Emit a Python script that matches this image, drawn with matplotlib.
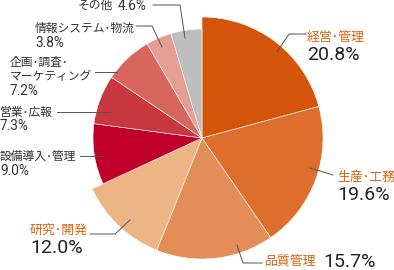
import matplotlib.pyplot as plt

plt.rcParams['font.family'] = ['Noto Sans CJK JP', 'DejaVu Sans']

categories = ['経営･管理', '生産･工務', '品質管理', '研究･開発', '設備導入･管理',
              '営業･広報', '企画･調査･\nマーケティング', '情報システム･物流', 'その他']
shares = [20.8, 19.6, 15.7, 12.0, 9.0, 7.3, 7.2, 3.8, 4.6]
colors = ['#D4550A', '#DE6E2E', '#E48E57', '#EDB486', '#C0002A',
          '#C8363F', '#D7665D', '#E49E94', '#BEBEBE']
n_major = 4  # first four slices drawn larger, with orange labels

# layout in image pixels (x, baseline y) for label and percentage
label_pos = [(307, 41), (337, 181), (265, 266), (30, 234), (0, 160),
             (0, 116), (10, 66), (35, 32), (78, 9)]
pct_pos = [(307, 60), (337, 200), (323, 267), (30, 253), (0, 175),
           (0, 130), (10, 95), (35, 47), (118, 10)]
leaders = [
    [(277, 52), (289, 34), (306, 34)],
    [(310, 168), (333, 175)],
    [(237, 245), (243, 263), (262, 263)],
    [(130, 220), (115, 234), (90, 234)],
    [(80, 156), (103, 156)],
    [(57, 112), (110, 112)],
    [(95, 72), (117, 72)],
    [(136, 26), (152, 26), (162, 47)],
    [(153, 5), (180, 5), (185, 38)],
]

fig = plt.figure(figsize=(3.94, 2.70), dpi=100)
ax = fig.add_axes([0, 0, 1, 1])

# y axis is flipped below, so counterclock in data space reads clockwise
wedges, _ = ax.pie(shares, colors=colors, startangle=270, counterclock=True,
                   center=(202, 138), radius=121, frame=True,
                   wedgeprops=dict(edgecolor='white', linewidth=0.4))
for w in wedges[n_major:]:
    w.set_radius(109)

ax.set_xlim(0, 394)
ax.set_ylim(270, 0)
ax.set_aspect('equal')
ax.axis('off')

for i, (cat, val) in enumerate(zip(categories, shares)):
    pts = leaders[i]
    ax.plot([p[0] for p in pts], [p[1] for p in pts], color='#555555', lw=0.7)
    lx, ly = label_pos[i]
    px, py = pct_pos[i]
    if i < n_major:
        ax.text(lx, ly, cat, color='#E0640F', fontsize=9.3, va='baseline', ha='left')
        ax.text(px, py, f'{val:.1f}%', color='#222222', fontsize=14,
                family=['Roboto', 'DejaVu Sans'], va='baseline', ha='left')
    else:
        lines = cat.split('\n')
        for k, line in enumerate(lines):
            ax.text(lx, ly + 14 * k, line, color='#333333', fontsize=8.5,
                    va='baseline', ha='left')
        ax.text(px, py, f'{val:.1f}%', color='#333333', fontsize=9.8,
                family=['Roboto', 'DejaVu Sans'], va='baseline', ha='left')

fig.savefig('out.png', dpi=100)
